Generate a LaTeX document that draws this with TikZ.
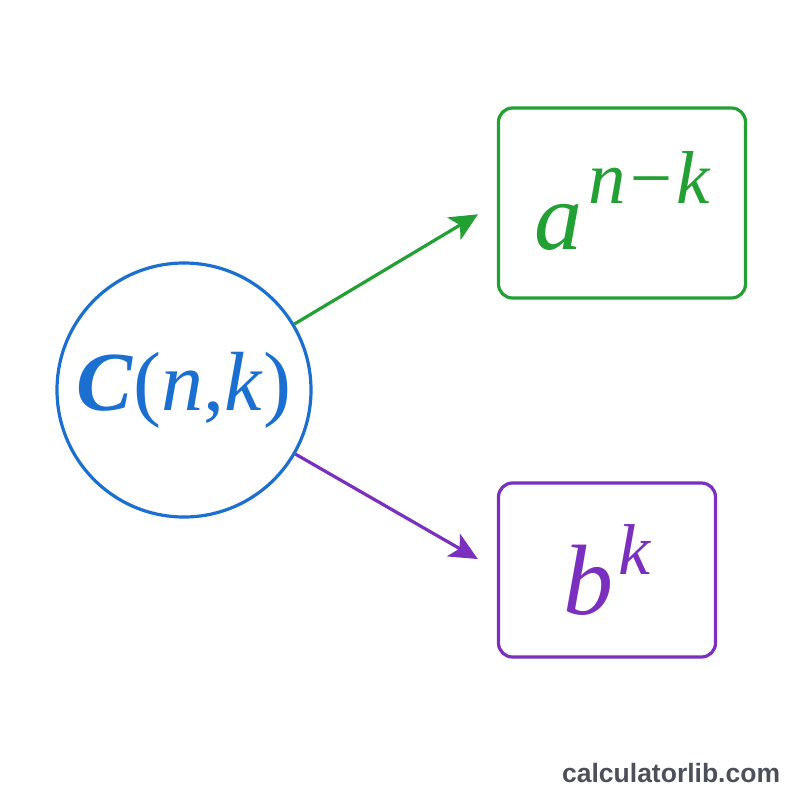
\documentclass[tikz,border=0pt]{standalone}
\usepackage{fontspec}
\setmainfont{Liberation Serif}
\newfontfamily\markfont{Liberation Sans}
\usetikzlibrary{arrows.meta}
\definecolor{binomblue}{HTML}{1A6FD0}
\definecolor{termgreen}{HTML}{22A033}
\definecolor{termpurple}{HTML}{7B2FBF}
\definecolor{markgray}{HTML}{4B505B}

\begin{document}
\begin{tikzpicture}[x=1pt,y=-1pt,line width=3.2pt,
  coef/.style={circle,draw=binomblue,text=binomblue,minimum size=254pt,inner sep=0pt},
  term/.style={draw=#1,text=#1,rounded corners=14pt,inner sep=0pt},
  link/.style={->,>={Stealth[length=28pt,width=26pt,inset=7pt]},draw=#1,fill=#1,shorten >=22pt}]
\useasboundingbox (0,0) rectangle (800,800);
\node[coef] (binom) at (184,390)
  {\fontsize{84}{84}\selectfont\textbf{\textit{C}}(\textit{n},\textit{k})};
\node[term=termgreen,minimum width=247pt,minimum height=190pt] (apow) at (622,203)
  {\raisebox{6pt}{\fontsize{96}{96}\selectfont\itshape a}\hspace{6pt}\raisebox{52pt}{\fontsize{75}{75}\selectfont\itshape n−k}};
\node[term=termpurple,minimum width=217pt,minimum height=174pt] (bpow) at (607,570)
  {\fontsize{100}{100}\selectfont\itshape b\hspace{5pt}\raisebox{40pt}{\fontsize{72}{72}\selectfont k}};
\draw[link=termgreen] (binom) -- (apow.west);
\draw[link=termpurple] (binom) -- (bpow.west);
\node[anchor=base east,text=markgray,font=\markfont\bfseries\fontsize{26.5}{26.5}\selectfont]
  (mark) at (785,782) {calculatorlib.com};
\end{tikzpicture}
\end{document}
